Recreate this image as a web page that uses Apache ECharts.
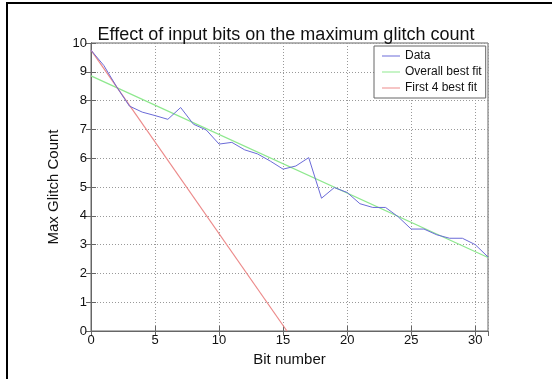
<!DOCTYPE html>
<html lang="en">
<head>
    <meta charset="UTF-8">
    <title>Effect of input bits on the maximum glitch count</title>
    <script src="https://cdn.jsdelivr.net/npm/echarts@6/dist/echarts.min.js"></script>
    <style>
        html, body { margin: 0; padding: 0; background: #fff; }
        #chart { width: 552px; height: 379px; }
    </style>
</head>
<body>
    <div id="chart"></div>
    <script>
        // values
        const bits = [0, 1, 2, 3, 4, 5, 6, 7, 8, 9, 10, 11, 12, 13, 14, 15,
                      16, 17, 18, 19, 20, 21, 22, 23, 24, 25, 26, 27, 28, 29, 30, 31];
        const glitchCounts = [9.75, 9.22, 8.48, 7.81, 7.6, 7.48, 7.35, 7.76, 7.18, 6.98, 6.49, 6.55,
                              6.29, 6.15, 5.9, 5.62, 5.73, 6.02, 4.61, 4.98, 4.81, 4.42, 4.29, 4.29,
                              3.96, 3.54, 3.54, 3.34, 3.22, 3.22, 3.0, 2.57];
        const overallFit = [[0, 8.86], [31, 2.55]];
        const first4Fit = [[0, 9.75], [15.3, 0]];

        const font = 'Liberation Sans, Arial, sans-serif';
        const chart = echarts.init(document.getElementById('chart'));

        const plainAxis = {
            axisLine: { show: true, lineStyle: { color: '#666', width: 1 } },
            axisTick: { show: true, inside: true, length: 5, lineStyle: { color: '#666' } },
            axisLabel: { show: false },
            splitLine: { show: false }
        };

        chart.setOption({
            animation: false,
            backgroundColor: '#fff',
            title: {
                text: 'Effect of input bits on the maximum glitch count',
                left: 281, top: 21, textAlign: 'center',
                textStyle: { fontFamily: font, fontSize: 18, fontWeight: 'normal', color: '#111' }
            },
            grid: { left: 91, right: 64, top: 43, bottom: 48, show: true, borderColor: '#666', borderWidth: 1 },
            legend: {
                orient: 'vertical',
                left: 374, top: 46,
                width: 111,
                padding: [4, 4, 4, 8],
                itemGap: 4,
                itemWidth: 18,
                itemHeight: 12,
                icon: 'path://M0,5.5 L18,5.5 L18,6.5 L0,6.5 Z',
                backgroundColor: '#fff',
                borderColor: '#666',
                borderWidth: 1,
                borderRadius: 0,
                textStyle: { fontFamily: font, fontSize: 12, color: '#111' },
                data: ['Data', 'Overall best fit', 'First 4 best fit']
            },
            xAxis: [{
                type: 'value', min: 0, max: 31, interval: 5,
                name: 'Bit number', nameLocation: 'middle', nameGap: 20,
                nameTextStyle: { fontFamily: font, fontSize: 15, color: '#111' },
                axisLine: { show: true, lineStyle: { color: '#666' } },
                axisTick: { show: true, inside: true, length: 5, lineStyle: { color: '#666' } },
                axisLabel: { fontFamily: font, fontSize: 13, color: '#111', margin: 3, showMaxLabel: false },
                splitLine: { show: true, lineStyle: { color: '#999', type: [1, 2], width: 1 } }
            }, Object.assign({ type: 'value', position: 'top', min: 0, max: 31, interval: 5 }, plainAxis)],
            yAxis: [{
                type: 'value', min: 0, max: 10, interval: 1,
                name: 'Max Glitch Count', nameLocation: 'middle', nameGap: 28,
                nameTextStyle: { fontFamily: font, fontSize: 15, color: '#111' },
                axisLine: { show: true, lineStyle: { color: '#666' } },
                axisTick: { show: true, inside: true, length: 5, lineStyle: { color: '#666' } },
                axisLabel: { fontFamily: font, fontSize: 13, color: '#111', margin: 4 },
                splitLine: { show: true, lineStyle: { color: '#999', type: [1, 2], width: 1 } }
            }, Object.assign({ type: 'value', position: 'right', min: 0, max: 10, interval: 1 }, plainAxis)],
            series: [
                {
                    name: 'Data', type: 'line', symbol: 'none',
                    data: bits.map((b, i) => [b, glitchCounts[i]]),
                    lineStyle: { color: '#6b6bd8', width: 1 }, itemStyle: { color: '#6b6bd8' }, z: 4
                },
                {
                    name: 'Overall best fit', type: 'line', symbol: 'none',
                    data: overallFit,
                    lineStyle: { color: '#8ee88e', width: 1.2 }, itemStyle: { color: '#8ee88e' }, z: 3
                },
                {
                    name: 'First 4 best fit', type: 'line', symbol: 'none',
                    data: first4Fit,
                    lineStyle: { color: '#ec8a8a', width: 1.2 }, itemStyle: { color: '#ec8a8a' }, z: 3
                }
            ],
            graphic: [
                { type: 'rect', shape: { x: 6, y: 2, width: 2, height: 377 }, style: { fill: '#000' } },
                { type: 'rect', shape: { x: 6, y: 2, width: 546, height: 2 }, style: { fill: '#000' } }
            ]
        });
    </script>
</body>
</html>
